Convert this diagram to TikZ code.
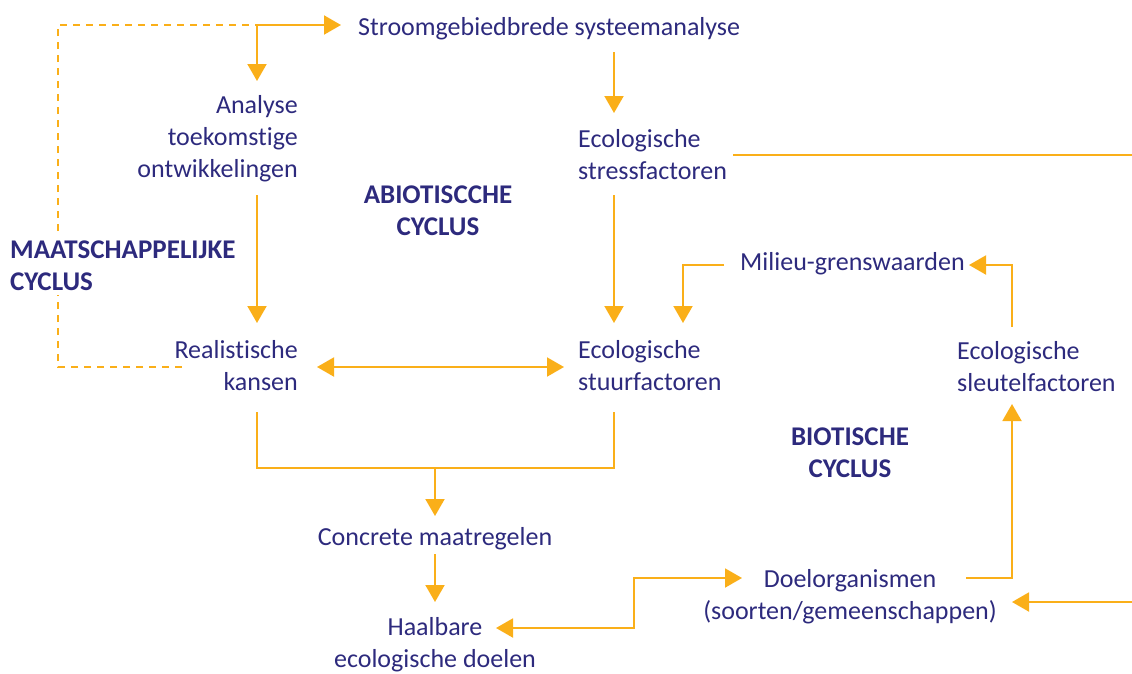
\documentclass[tikz,border=0pt]{standalone}
\usepackage{fontspec}
\setmainfont{Carlito}[Ligatures={NoCommon}]
\usetikzlibrary{arrows.meta}
\definecolor{ink}{RGB}{45,42,125}
\definecolor{flow}{RGB}{250,175,25}
\begin{document}
\begin{tikzpicture}[x=1pt,y=-1pt,
  lbl/.style={text=ink, font=\fontsize{26}{32}\selectfont, inner sep=0pt},
  head/.style={lbl, font=\fontsize{27}{32}\selectfont\bfseries},
  link/.style={draw=flow, line width=2pt},
  tip/.tip={Triangle[length=17pt,width=19pt]},
  arr/.style={link, -tip},
  darr/.style={link, tip-tip},
  dashlink/.style={link, dash pattern=on 7pt off 6pt}]
\useasboundingbox (0,0) rectangle (1132,673);

% ---- labels (base = baseline of the last line) ----
\node[lbl, anchor=base west] (stroom) at (358,35) {Stroomgebiedbrede systeemanalyse};
\node[lbl, align=right, anchor=base east] (analyse) at (298,177) {Analyse\\toekomstige\\ontwikkelingen};
\node[lbl, align=left, anchor=base west] (stress) at (578,179) {Ecologische\\stressfactoren};
\node[head, align=center, anchor=base] (abio) at (438,235) {ABIOTISCCHE\\CYCLUS};
\node[lbl, anchor=base west] (milieu) at (740,270) {Milieu-grenswaarden};
\node[lbl, align=right, anchor=base east] (kansen) at (298,390) {Realistische\\kansen};
\node[lbl, align=left, anchor=base west] (stuur) at (578,390) {Ecologische\\stuurfactoren};
\node[lbl, align=left, anchor=base west] (sleutel) at (957,391) {Ecologische\\sleutelfactoren};
\node[head, align=center, anchor=base] (bio) at (850,477) {BIOTISCHE\\CYCLUS};
\node[lbl, anchor=base] (maatr) at (435,545) {Concrete maatregelen};
\node[lbl, align=center, anchor=base] (doelen) at (435,667) {Haalbare\\ecologische doelen};
\node[lbl, align=center, anchor=base] (doelorg) at (850,619) {Doelorganismen\\(soorten/gemeenschappen)};

% ---- connector end points ----
\coordinate (split) at (257,25);
\coordinate (kansen-w) at (182,367);
\coordinate (maats-corner) at (58,25);
\coordinate (stroom-in) at (341,25);
\coordinate (analyse-in) at (257,81);
\coordinate (analyse-out) at (257,195);
\coordinate (kansen-in) at (257,323);
\coordinate (kansen-e) at (317,367);
\coordinate (stuur-w) at (564,367);
\coordinate (stroom-out) at (614,52);
\coordinate (stress-in) at (614,113);
\coordinate (stress-out) at (614,195);
\coordinate (stuur-in) at (614,323);
\coordinate (stress-e) at (733,155);
\coordinate (edge-top) at (1132,155);
\coordinate (milieu-w) at (724,265);
\coordinate (stuur-in2) at (683,323);
\coordinate (sleutel-out) at (1012,327);
\coordinate (milieu-e) at (969,265);
\coordinate (kansen-s) at (257,412);
\coordinate (stuur-s) at (614,412);
\coordinate (join) at (435,468);
\coordinate (maatr-in) at (435,516);
\coordinate (maatr-out) at (435,554);
\coordinate (doelen-in) at (435,602);
\coordinate (doelen-e) at (496,628);
\coordinate (step) at (634,578);
\coordinate (doelorg-w) at (742,578);
\coordinate (doelorg-e) at (966,578);
\coordinate (sleutel-in) at (1012,404);
\coordinate (edge-low) at (1132,602);
\coordinate (doelorg-e2) at (1012,602);

% ---- societal loop (dashed) ----
\draw[dashlink] (kansen-w) -| (maats-corner) -- (split);
\node[head, align=left, anchor=base west, fill=white, inner sep=5pt] (maats) at (5,290) {MAATSCHAPPELIJKE\\CYCLUS};

% ---- abiotic cycle ----
\draw[arr] (split) -- (stroom-in);
\draw[arr] (split) -- (analyse-in);
\draw[arr] (analyse-out) -- (kansen-in);
\draw[darr] (kansen-e) -- (stuur-w);
\draw[arr] (stroom-out) -- (stress-in);
\draw[arr] (stress-out) -- (stuur-in);
\draw[link] (stress-e) -- (edge-top);
\draw[arr] (milieu-w) -| (stuur-in2);
\draw[link] (kansen-s) |- (join) -| (stuur-s);
\draw[arr] (join) -- (maatr-in);
\draw[arr] (maatr-out) -- (doelen-in);

% ---- biotic cycle ----
\draw[arr] (sleutel-out) |- (milieu-e);
\draw[darr] (doelen-e) -| (step) -- (doelorg-w);
\draw[arr] (doelorg-e) -| (sleutel-in);
\draw[arr] (edge-low) -- (doelorg-e2);
\end{tikzpicture}
\end{document}
